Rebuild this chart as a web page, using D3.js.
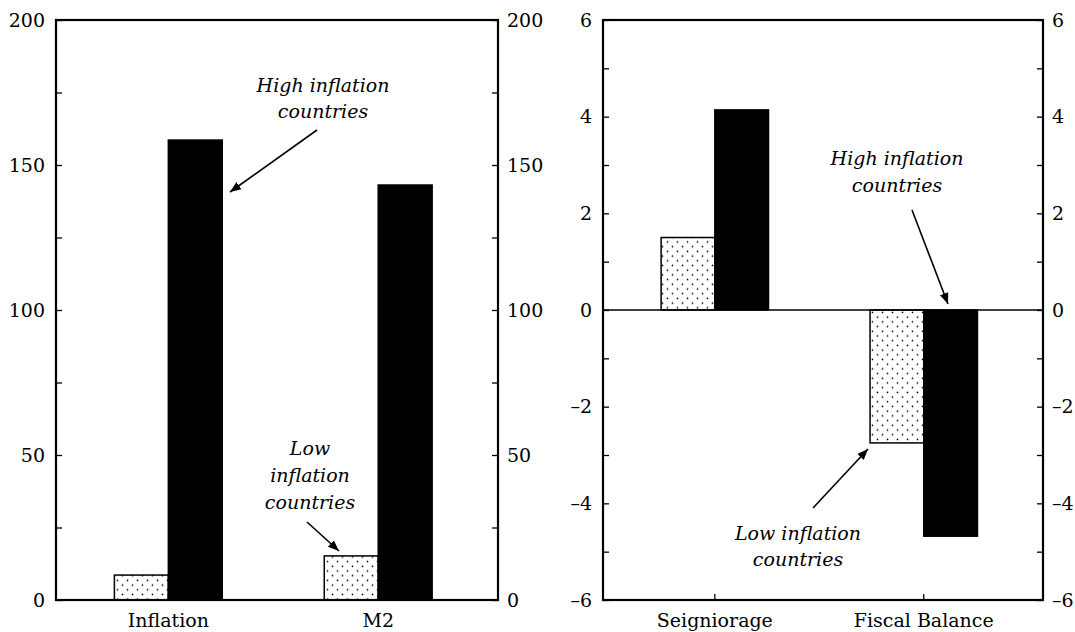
<!DOCTYPE html>
<html>
<head>
<meta charset="utf-8">
<script src="https://cdn.jsdelivr.net/npm/d3@7"></script>
<style>
  body { margin: 0; background: #fff; }
  svg { display: block; }
  text { font-family: "DejaVu Serif", serif; }
</style>
</head>
<body>
<script>
// ---- data ----
const groups = ["low", "high"]
const leftCats = ["Inflation", "M2"]
const leftLow = [8.6, 15.2]
const leftHigh = [158.6, 143.1]
const rightCats = ["Seigniorage", "Fiscal Balance"]
const rightLow = [1.5, -2.75]
const rightHigh = [4.14, -4.68]
const leftTicks = d3.range(0, 201, 25)
const rightTicks = d3.range(-6, 7, 1)

const width = 1075
const height = 632
const plotTop = 20, plotBottom = 600

const svg = d3.select("body").append("svg")
  .attr("width", width)
  .attr("height", height)

const defs = svg.append("defs")

// dotted fill for low inflation bars
const pat = defs.append("pattern")
  .attr("id", "dots")
  .attr("patternUnits", "userSpaceOnUse")
  .attr("width", 10)
  .attr("height", 9.4)
pat.append("circle").attr("cx", 2.5).attr("cy", 2.3).attr("r", 0.85).attr("fill", "#000")
pat.append("circle").attr("cx", 7.5).attr("cy", 7).attr("r", 0.85).attr("fill", "#000")

// arrow head
defs.append("marker")
  .attr("id", "arrow")
  .attr("viewBox", "0 0 10 10")
  .attr("refX", 10).attr("refY", 5)
  .attr("markerWidth", 11).attr("markerHeight", 11)
  .attr("markerUnits", "userSpaceOnUse")
  .attr("orient", "auto")
  .append("path")
  .attr("d", "M0,1 L10,5 L0,9 Z")
  .attr("fill", "#000")

function panel(x0, x1, cats, low, high, domain, ticks, major) {
  const g = svg.append("g")
  const x = d3.scaleBand().domain(cats).range([x0, x1])
    .paddingInner(0.486).paddingOuter(0.296).align(0.47)
  const xi = d3.scaleBand().domain(groups).range([0, x.bandwidth()])
  const y = d3.scaleLinear().domain(domain).range([plotBottom, plotTop])

  const rows = cats.map((c, i) => ({ c, low: low[i], high: high[i] }))

  // bars
  rows.forEach(r => {
    groups.forEach(k => {
      const v = r[k]
      g.append("rect")
        .attr("x", x(r.c) + xi(k))
        .attr("width", xi.bandwidth())
        .attr("y", Math.min(y(v), y(0)))
        .attr("height", Math.abs(y(v) - y(0)))
        .attr("fill", k === "low" ? "url(#dots)" : "#000")
        .attr("stroke", "#000")
        .attr("stroke-width", 1.5)
    })
  })

  // zero line when needed
  if (domain[0] < 0) {
    g.append("line")
      .attr("x1", x0).attr("x2", x1)
      .attr("y1", y(0)).attr("y2", y(0))
      .attr("stroke", "#000").attr("stroke-width", 1.5)
  }

  // en dash for negatives, like the print
  const tf = d => (d % major === 0 ? (d < 0 ? "\u2013" + (-d) : String(d)) : "")

  const la = g.append("g")
    .attr("transform", `translate(${x0},0)`)
    .call(d3.axisLeft(y).tickValues(ticks).tickSize(-6).tickPadding(11).tickFormat(tf))
  const ra = g.append("g")
    .attr("transform", `translate(${x1},0)`)
    .call(d3.axisRight(y).tickValues(ticks).tickSize(-6).tickPadding(9).tickFormat(tf))
  const ba = g.append("g")
    .attr("transform", `translate(0,${plotBottom})`)
    .call(d3.axisBottom(x).tickSize(-6).tickPadding(10).offset(0))

  ;[la, ra, ba].forEach(a => {
    a.select(".domain").remove()
    a.selectAll(".tick line").attr("stroke", "#000").attr("stroke-width", 1.3)
    a.selectAll("text")
      .attr("fill", "#000")
      .style("font-family", '"DejaVu Serif", serif')
      .style("font-size", "19px")
  })
  ba.selectAll("text").attr("dy", "0.9em")

  // frame
  g.append("rect")
    .attr("x", x0).attr("y", plotTop)
    .attr("width", x1 - x0).attr("height", plotBottom - plotTop)
    .attr("fill", "none").attr("stroke", "#000").attr("stroke-width", 2.2)
}

panel(56, 498, leftCats, leftLow, leftHigh, [0, 200], leftTicks, 50)
panel(603, 1043, rightCats, rightLow, rightHigh, [-6, 6], rightTicks, 2)

function note(lines, cx, y0, dy, from, to) {
  const t = svg.append("text")
    .attr("text-anchor", "middle")
    .style("font-style", "italic")
    .style("font-size", "19px")
  lines.forEach((s, i) => {
    t.append("tspan").attr("x", cx).attr("y", y0 + i * dy).text(s)
  })
  svg.append("line")
    .attr("x1", from[0]).attr("y1", from[1])
    .attr("x2", to[0]).attr("y2", to[1])
    .attr("stroke", "#000").attr("stroke-width", 1.6)
    .attr("marker-end", "url(#arrow)")
}

note(["High inflation", "countries"], 323, 92, 26, [317, 130], [230, 192])
note(["Low", "inflation", "countries"], 310, 455, 27, [307, 522], [339, 551])
note(["High inflation", "countries"], 897, 165, 27, [912, 210], [948, 304])
note(["Low inflation", "countries"], 798, 540, 26, [813, 508], [868, 449])
</script>
</body>
</html>
